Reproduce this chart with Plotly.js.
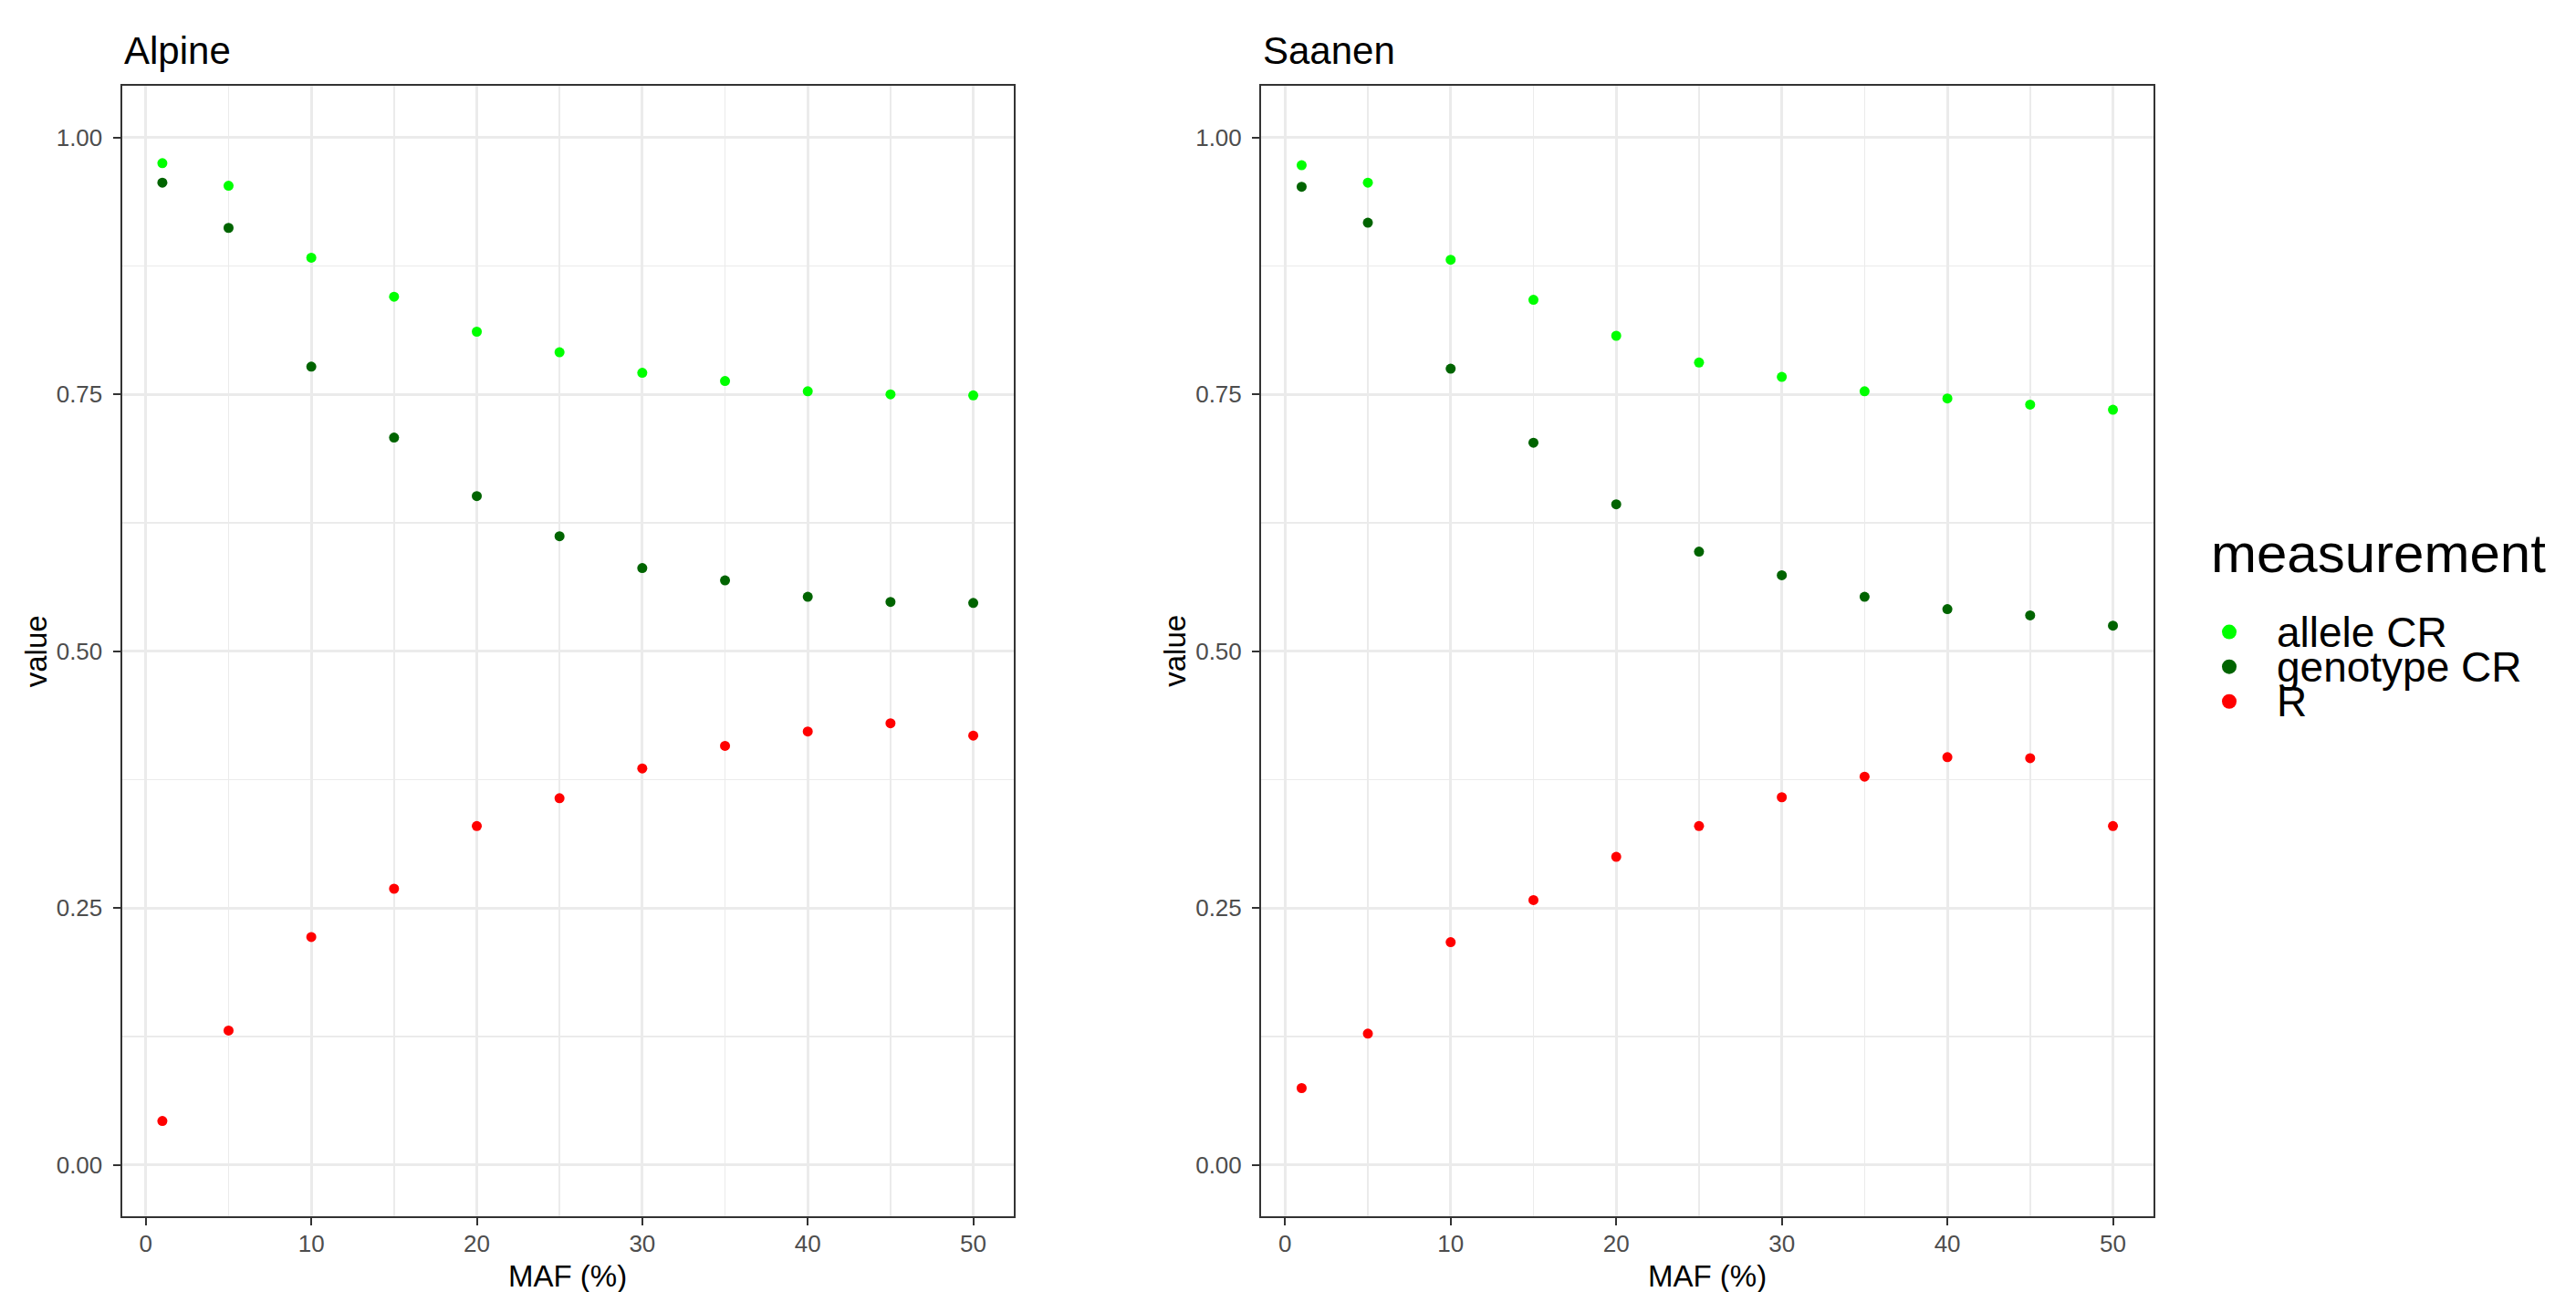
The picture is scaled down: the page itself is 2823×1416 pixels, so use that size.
<!DOCTYPE html>
<html>
<head>
<meta charset="utf-8">
<script src="https://cdn.plot.ly/plotly-3.0.1.min.js"></script>
<style>html,body{margin:0;padding:0;background:#fff;}#chart{width:2823px;height:1416px;}</style>
</head>
<body>
<div id="chart"></div>
<script>
const maf = [1, 5, 10, 15, 20, 25, 30, 35, 40, 45, 50];
const panels = ["Alpine", "Saanen"];
const measurements = ["allele CR", "genotype CR", "R"];
const alpineAllele   = [0.975, 0.953, 0.883, 0.845, 0.811, 0.791, 0.771, 0.763, 0.753, 0.750, 0.749];
const alpineGenotype = [0.956, 0.912, 0.777, 0.708, 0.651, 0.612, 0.581, 0.569, 0.553, 0.548, 0.547];
const alpineR        = [0.043, 0.131, 0.222, 0.269, 0.330, 0.357, 0.386, 0.408, 0.422, 0.430, 0.418];
const saanenAllele   = [0.973, 0.956, 0.881, 0.842, 0.807, 0.781, 0.767, 0.753, 0.746, 0.740, 0.735];
const saanenGenotype = [0.952, 0.917, 0.775, 0.703, 0.643, 0.597, 0.574, 0.553, 0.541, 0.535, 0.525];
const saanenR        = [0.075, 0.128, 0.217, 0.258, 0.300, 0.330, 0.358, 0.378, 0.397, 0.396, 0.330];
const yTicks = [0, 0.25, 0.5, 0.75, 1];
const yTickText = ["0.00", "0.25", "0.50", "0.75", "1.00"];
const xTicks = [0, 10, 20, 30, 40, 50];
const legendTitle = "measurement";

const colors = {"allele CR": "#00ff00", "genotype CR": "#006400", "R": "#ff0000"};
const series = [
  [alpineAllele, alpineGenotype, alpineR],
  [saanenAllele, saanenGenotype, saanenR]
];
const FONT = "Liberation Sans, Arial, Helvetica, sans-serif";

const traces = [];
panels.forEach((p, pi) => {
  measurements.forEach((m, mi) => {
    traces.push({
      type: "scatter", mode: "markers",
      x: maf, y: series[pi][mi],
      xaxis: pi === 0 ? "x" : "x2", yaxis: pi === 0 ? "y" : "y2",
      name: m, legendgroup: m, showlegend: false,
      marker: {color: colors[m], size: 11, line: {width: 0}},
      hoverinfo: "x+y+name"
    });
  });
});
// legend keys (no data points; larger key symbols as in the reference)
measurements.forEach((m) => {
  traces.push({
    type: "scatter", mode: "markers", x: [null], y: [null], xaxis: "x", yaxis: "y",
    name: '<span style="font-size:46px;baseline-shift:-6px">' + m + '</span>',
    legendgroup: m, showlegend: true,
    marker: {color: colors[m], size: 18, line: {width: 0}}
  });
});

const W = 2823, H = 1416;
const yTop = 94.3, yBot = 1333.3;
const dom = [[133.5 / W, 1111 / W], [1382 / W, 2360 / W]];
const ydom = [1 - yBot / H, 1 - yTop / H];

function xax(d) {
  return {
    domain: d, range: [-1.45, 52.45], tickvals: xTicks, ticks: "outside", ticklen: 8, tickwidth: 2,
    tickcolor: "#333333", tickfont: {family: FONT, size: 26, color: "#4d4d4d"},
    showgrid: true, gridcolor: "#ebebeb", gridwidth: 3, zeroline: false,
    minor: {dtick: 5, tick0: 0, showgrid: true, gridcolor: "#ebebeb", gridwidth: 1.5, ticks: ""},
    showline: true, linecolor: "#333333", linewidth: 2, mirror: true, ticklabelstandoff: -3
  };
}
function yax(d, anchor) {
  return {
    domain: d, range: [-0.05, 1.05], tickvals: yTicks, ticktext: yTickText, ticks: "outside", ticklen: 8, tickwidth: 2,
    tickcolor: "#333333", tickfont: {family: FONT, size: 26, color: "#4d4d4d"},
    showgrid: true, gridcolor: "#ebebeb", gridwidth: 3, zeroline: false,
    minor: {dtick: 0.125, tick0: 0, showgrid: true, gridcolor: "#ebebeb", gridwidth: 1.5, ticks: ""},
    showline: true, linecolor: "#333333", linewidth: 2, mirror: true, anchor: anchor, ticklabelstandoff: 6
  };
}

const annotations = [];
panels.forEach((p, pi) => {
  const xl = dom[pi][0], xr = dom[pi][1];
  annotations.push({text: p, xref: "paper", yref: "paper", x: xl, y: 1 - 56 / H, xanchor: "left", yanchor: "middle",
    showarrow: false, font: {family: FONT, size: 42, color: "#000"}});
  annotations.push({text: "MAF (%)", xref: "paper", yref: "paper", x: (xl + xr) / 2, y: 1 - 1398 / H, xanchor: "center", yanchor: "middle",
    showarrow: false, font: {family: FONT, size: 33, color: "#000"}});
  annotations.push({text: "value", xref: "paper", yref: "paper", x: (xl * W - 94) / W, y: (ydom[0] + ydom[1]) / 2, xanchor: "center", yanchor: "middle",
    textangle: -90, showarrow: false, font: {family: FONT, size: 33, color: "#000"}});
});
// legend title
annotations.push({text: legendTitle, xref: "paper", yref: "paper", x: 2421 / W, y: 1 - 606 / H, xanchor: "left", yanchor: "middle",
  showarrow: false, font: {family: FONT, size: 60, color: "#000"}});

const layout = {
  width: W, height: H,
  margin: {l: 0, r: 0, t: 0, b: 0},
  paper_bgcolor: "#ffffff", plot_bgcolor: "#ffffff",
  font: {family: FONT},
  xaxis: xax(dom[0]), yaxis: yax(ydom, "x"),
  xaxis2: xax(dom[1]), yaxis2: yax(ydom, "x2"),
  showlegend: true,
  legend: {
    x: 2391 / W, xanchor: "left", y: 1 - 731 / H, yanchor: "middle",
    font: {family: FONT, size: 27, color: "#000"},
    itemwidth: 94, tracegroupgap: 0, bgcolor: "rgba(0,0,0,0)", borderwidth: 0
  },
  annotations: annotations
};

Plotly.newPlot("chart", traces, layout, {displayModeBar: false, staticPlot: true});
</script>
</body>
</html>
